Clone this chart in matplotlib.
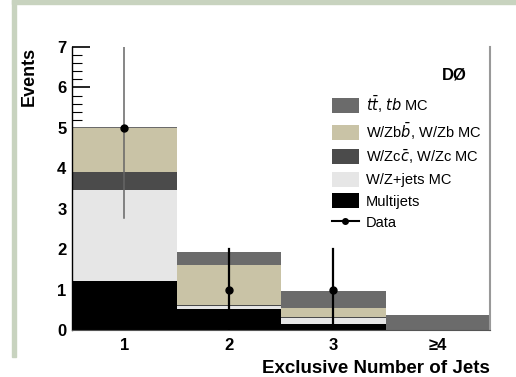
import numpy as np
import matplotlib
matplotlib.use("Agg")
from matplotlib import pyplot as plt
from matplotlib.patches import Patch, Rectangle
from matplotlib.lines import Line2D
from matplotlib.ticker import MultipleLocator

plt.rcParams['font.family'] = ['Liberation Sans', 'DejaVu Sans']

# exclusive jet multiplicity bins
bins = [1, 2, 3, 4]
bin_labels = ['1', '2', '3', '\u22654']

# stacked backgrounds, bottom to top
multijet = [1.21, 0.52, 0.14, 0.0]
wz_jets = [2.25, 0.07, 0.16, 0.0]
wz_cc = [0.44, 0.03, 0.02, 0.0]
wz_bb = [1.10, 0.99, 0.22, 0.0]
ttbar = [0.02, 0.33, 0.43, 0.36]

# observed
data = [5, 1, 1]
data_bins = [1, 2, 3]
data_err = [2.236, 1.0, 1.0]

stack = [multijet, wz_jets, wz_cc, wz_bb, ttbar]
colors = ['#000000', '#e6e6e6', '#4b4b4b', '#c9c3a6', '#6b6b6b']
names = ['Multijets', 'W/Z+jets MC', 'W/Zc$\\bar{c}$, W/Zc MC',
         'W/Zb$\\bar{b}$, W/Zb MC', '$t\\bar{t}$, $tb$ MC']

fig = plt.figure(figsize=(5.16, 3.77), dpi=100)
# sage frame strips
fig.patches.append(Rectangle((12/516, 1-4/377), 1, 4/377, transform=fig.transFigure,
                             color='#c8d3bf', zorder=0))
fig.patches.append(Rectangle((12/516, 20/377), 4/516, 1, transform=fig.transFigure,
                             color='#c8d3bf', zorder=0))

ax = fig.add_axes([72/516, 47/377, 418/516, 283/377])

bottom = np.zeros(len(bins))
for vals, c in zip(stack, colors):
    ax.bar(bins, vals, width=1.0, bottom=bottom, color=c, linewidth=0, zorder=2)
    bottom += np.array(vals)

err_colors = ['#666666', 'black', 'black']
err_lw = [1.1, 1.6, 1.6]
for x, y, e, c, w in zip(data_bins, data, data_err, err_colors, err_lw):
    ax.plot([x, x], [y - e, y + e], color=c, lw=w, zorder=4, clip_on=True)
    ax.plot(x, y, 'o', color='black', ms=5, zorder=5)

ax.set_xlim(0.5, 4.5)
ax.set_ylim(0, 7)
ax.set_xticks(bins)
ax.set_xticklabels(bin_labels)
ax.yaxis.set_major_locator(MultipleLocator(1))
ax.yaxis.set_minor_locator(MultipleLocator(0.2))
ax.tick_params(axis='y', which='major', direction='in', length=13, width=1.2,
               labelsize=12, pad=4)
ax.tick_params(axis='y', which='minor', direction='in', length=7, width=0.8)
ax.tick_params(axis='x', length=0, labelsize=12, pad=6)
for lab in ax.get_xticklabels() + ax.get_yticklabels():
    lab.set_fontweight('bold')

ax.spines['top'].set_visible(False)
ax.spines['right'].set_color('#999999')
ax.spines['right'].set_linewidth(1.5)
ax.spines['bottom'].set_color('#555555')
ax.spines['left'].set_linewidth(1.0)

ax.set_xlabel('Exclusive Number of Jets', loc='right', fontsize=13.5,
              fontweight='bold', labelpad=5)
ax.set_ylabel('Events', loc='top', fontsize=13, fontweight='bold', labelpad=14)

ax.text(0.945, 0.9, 'D\u00d8', transform=ax.transAxes, ha='right', va='center',
        fontsize=12, fontweight='bold')

handles = [Patch(color=c, linewidth=0) for c in colors[::-1]]
handles.append(Line2D([], [], color='black', marker='o', ms=4, lw=1.5))
labels = names[::-1] + ['Data']
ax.legend(handles, labels, loc='upper left', bbox_to_anchor=(0.622, 0.835),
          frameon=False, fontsize=10.5, handlelength=1.85, handleheight=1.23,
          labelspacing=0.41, handletextpad=0.45, borderaxespad=0, borderpad=0)

fig.savefig('out.png', dpi=100)
